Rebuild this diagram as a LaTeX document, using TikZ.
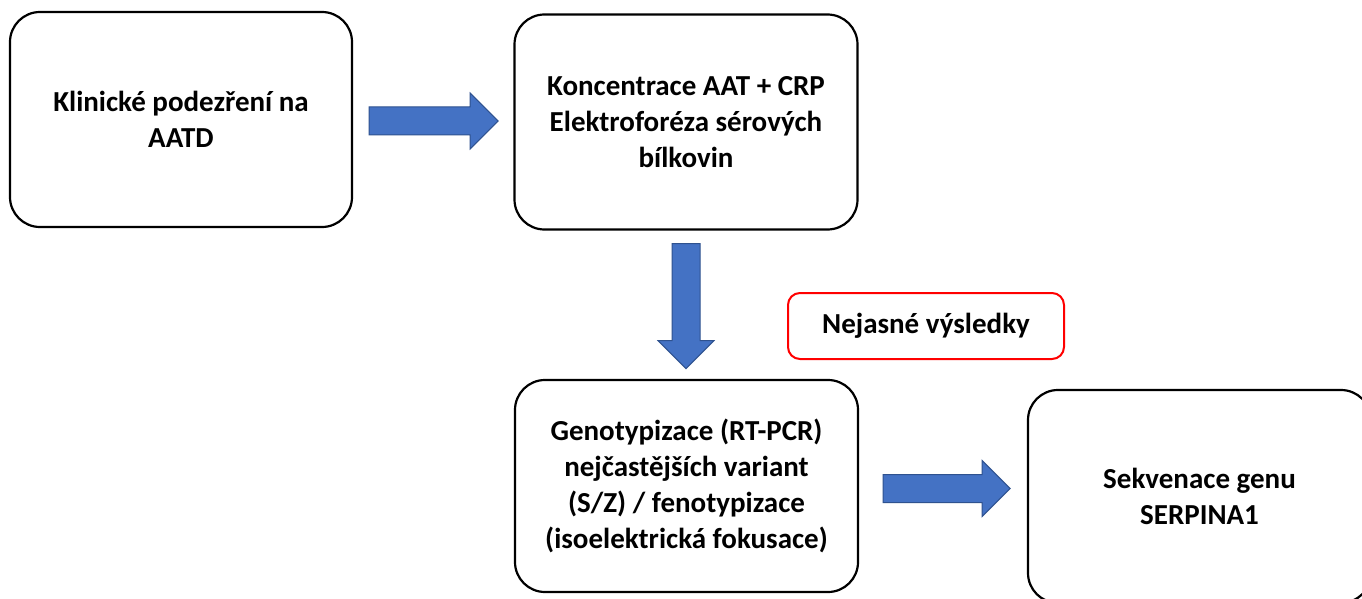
\documentclass[tikz,border=0pt]{standalone}
\usepackage{fontspec}
\setmainfont{Carlito}
\usetikzlibrary{calc}

\definecolor{arrowfill}{HTML}{4472C4}
\definecolor{arrowline}{HTML}{2F528F}
\definecolor{alertred}{HTML}{FF0000}

\tikzset{
  stepbox/.style={draw=black, line width=2.2pt, rounded corners=30pt,
    fill=white, align=center, inner sep=0pt,
    font=\fontsize{29}{36}\selectfont\bfseries},
  notebox/.style={draw=alertred, line width=2pt, rounded corners=12pt,
    fill=white, align=center, inner sep=0pt,
    minimum width=276pt, minimum height=66pt,
    font=\fontsize{29}{36}\selectfont\bfseries},
  blockarrow/.style={fill=arrowfill, draw=arrowline, line width=1pt, line join=miter},
  % block arrow along +x, length #1
  pics/fatarrow/.style={code={
    \path[blockarrow] (0,-14) -- ({#1-28},-14) -- ({#1-28},-28) -- (#1,0)
      -- ({#1-28},28) -- ({#1-28},14) -- (0,14) -- cycle;
  }}
}

\begin{document}
\begin{tikzpicture}[x=1pt, y=-1pt]
  \useasboundingbox[fill=white] (0,0) rectangle (1362,599);

  % process steps
  \node[stepbox, minimum width=342pt, minimum height=215pt] (k1) at (181,119.5)
    {Klinické podezření na\\AATD};
  \node[stepbox, minimum width=343pt, minimum height=215pt] (k2) at (686,122)
    {Koncentrace AAT + CRP\\Elektroforéza sérových\\bílkovin};
  \node[stepbox, minimum width=343pt, minimum height=212pt] (k3) at (686.5,486)
    {Genotypizace (RT-PCR)\\nejčastějších variant\\(S/Z) / fenotypizace\\(isoelektrická fokusace)};
  \node[stepbox, minimum width=343pt, minimum height=213pt] (k4) at (1199.5,496.5)
    {Sekvenace genu\\SERPINA1};

  % note on the way to sequencing
  \node[notebox] (note) at (926,326) {Nejasné výsledky};

  % block arrows between the steps
  \coordinate (a1) at ($(k1.east)+(16,1.5)$);
  \coordinate (a2) at ($(k2.south)+(0,13)$);
  \coordinate (a3) at ($(k3.east)+(24,2.5)$);

  \pic at (a1) {fatarrow=129};
  \pic[rotate=-90] at (a2) {fatarrow=125};
  \pic at (a3) {fatarrow=127};
\end{tikzpicture}
\end{document}
